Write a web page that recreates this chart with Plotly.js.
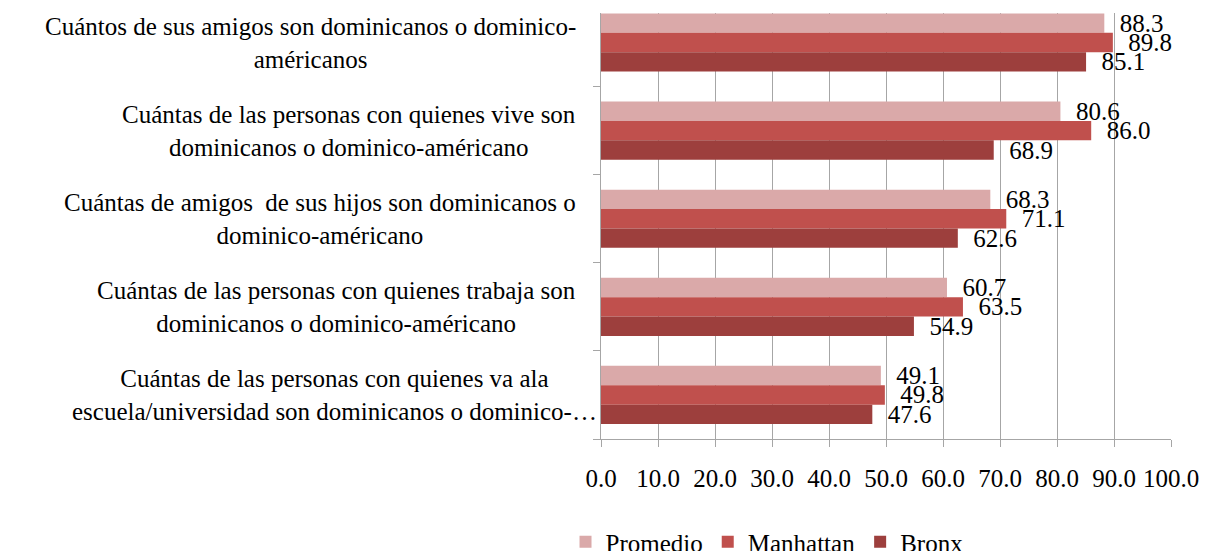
<!DOCTYPE html>
<html>
<head>
<meta charset="utf-8">
<script src="https://cdn.plot.ly/plotly-3.0.1.min.js"></script>
<style>html,body{margin:0;padding:0;background:#fff;overflow:hidden;}#wrap{width:1206px;height:551px;overflow:hidden;}#chart{width:1206px;height:565px;}</style>
</head>
<body>
<div id="wrap"><div id="chart"></div></div>
<script>
const categories = [
  "Cuántos de sus amigos son dominicanos o dominico-<br>américanos",
  "Cuántas de las personas con quienes vive son<br>dominicanos o dominico-américano",
  "Cuántas de amigos  de sus hijos son dominicanos o<br>dominico-américano",
  "Cuántas de las personas con quienes trabaja son<br>dominicanos o dominico-américano",
  "Cuántas de las personas con quienes va ala<br>escuela/universidad son dominicanos o dominico-…"
];
const seriesNames = ["Promedio", "Manhattan", "Bronx"];
const promedio = [88.3, 80.6, 68.3, 60.7, 49.1];
const manhattan = [89.8, 86.0, 71.1, 63.5, 49.8];
const bronx = [85.1, 68.9, 62.6, 54.9, 47.6];
const xTickVals = [0, 10, 20, 30, 40, 50, 60, 70, 80, 90, 100];

const colors = ["#DAA9A9", "#C0504D", "#9D3F3D"];
const values = [promedio, manhattan, bronx];
const idx = categories.map((c, i) => i);
const font = "'Liberation Serif', 'Times New Roman', serif";
const fs = 25;

const traces = values.map((v, k) => ({
  type: "bar",
  orientation: "h",
  name: seriesNames[k],
  x: v,
  y: idx,
  marker: {color: colors[k]},
  text: v.map(n => "\u00a0\u00a0" + n.toFixed(1)),
  textposition: "outside",
  textfont: {family: font, size: fs, color: "#000"},
  constraintext: "none",
  cliponaxis: false,
  hoverinfo: "x+name"
}));

const annotations = categories.map((c, i) => ({
  xref: "paper", yref: "y",
  x: i === categories.length - 1 ? -0.004 : -0.04,
  y: i,
  xanchor: "right", yanchor: "middle",
  align: "center",
  text: c,
  showarrow: false,
  font: {family: font, size: fs, color: "#000"}
}));

const layout = {
  width: 1206, height: 565,
  margin: {l: 601, r: 35, t: 13, b: 126},
  paper_bgcolor: "#fff", plot_bgcolor: "#fff",
  barmode: "group", bargap: 0.34, bargroupgap: 0,
  font: {family: font, size: fs, color: "#000"},
  showlegend: true,
  legend: {orientation: "h", x: 0.636, xanchor: "center", xref: "container",
           y: 0, yanchor: "bottom", yref: "container",
           font: {family: font, size: fs, color: "#000"}, itemwidth: 30, tracegroupgap: 0},
  xaxis: {
    range: [0, 100], tickvals: xTickVals, ticktext: xTickVals.map(v => v.toFixed(1)),
    showgrid: true, gridcolor: "#A6A6A6", gridwidth: 1,
    zeroline: false, showline: true, linecolor: "#A6A6A6", linewidth: 1,
    ticks: "outside", ticklen: 7, tickcolor: "#A6A6A6", ticklabelstandoff: 10,
    tickfont: {family: font, size: fs, color: "#000"}, fixedrange: true, automargin: false
  },
  yaxis: {
    type: "linear", range: [4.5, -0.335],
    tickvals: [0.5, 1.5, 2.5, 3.5, 4.5], showticklabels: false,
    ticks: "outside", ticklen: 7, tickcolor: "#A6A6A6",
    showgrid: false, zeroline: false, showline: true, linecolor: "#A6A6A6", linewidth: 1.5,
    fixedrange: true, automargin: false
  },
  annotations: annotations
};

Plotly.newPlot("chart", traces, layout, {displayModeBar: false, staticPlot: true});
</script>
</body>
</html>
